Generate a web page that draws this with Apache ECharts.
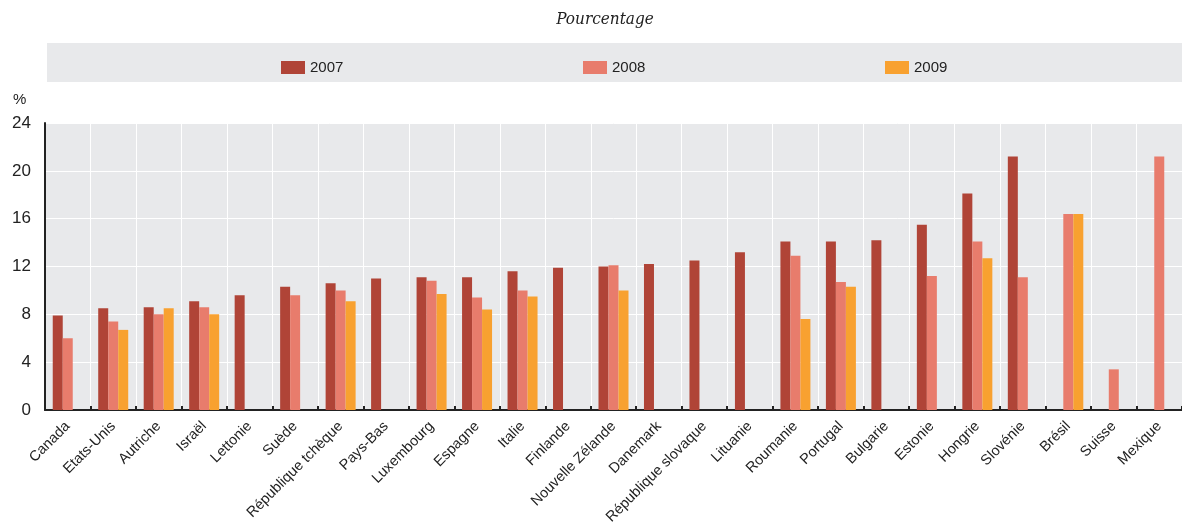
<!DOCTYPE html>
<html><head><meta charset="utf-8">
<script src="https://cdn.jsdelivr.net/npm/echarts@6/dist/echarts.min.js"></script>
<style>html,body{margin:0;padding:0;background:#fff}#c{width:1182px;height:523px}</style>
</head><body><div id="c"></div>
<script>
const categories = ["Canada","Etats-Unis","Autriche","Israël","Lettonie","Suède","République tchèque","Pays-Bas","Luxembourg","Espagne","Italie","Finlande","Nouvelle Zélande","Danemark","République slovaque","Lituanie","Roumanie","Portugal","Bulgarie","Estonie","Hongrie","Slovénie","Brésil","Suisse","Mexique"];
const v2007 = [7.9,8.5,8.6,9.1,9.6,10.3,10.6,11.0,11.1,11.1,11.6,11.9,12.0,12.2,12.5,13.2,14.1,14.1,14.2,15.5,18.1,21.2,null,null,null];
const v2008 = [6.0,7.4,8.0,8.6,null,9.6,10.0,null,10.8,9.4,10.0,null,12.1,null,null,null,12.9,10.7,null,11.2,14.1,11.1,16.4,3.4,21.2];
const v2009 = [null,6.7,8.5,8.0,null,null,9.1,null,9.7,8.4,9.5,null,10.0,null,null,null,7.6,10.3,null,null,12.7,null,16.4,null,null];
const yTicks = [0,4,8,12,16,20,24];
const seriesNames = ["2007","2008","2009"];
const colors = ["#B04437","#E87C6C","#F8A130"];

const chart = echarts.init(document.getElementById('c'), null, {renderer:'canvas'});
const font = "'Liberation Sans', Arial, sans-serif";
const narrow = "'Liberation Sans Narrow', 'Liberation Sans', Arial, sans-serif";
const legendPos = [276, 578, 880];
chart.setOption({
  animation:false,
  textStyle:{fontFamily:font},
  graphic:[
    {type:'rect', shape:{x:47,y:43,width:1135,height:39}, style:{fill:'#E8E9EB'}, z:-1},
    {type:'text', x:605, y:11, style:{text:'Pourcentage', font:"italic 17px 'DejaVu Serif Condensed', 'Liberation Serif', serif", fill:'#222', align:'center'}},
    {type:'text', x:13, y:92, style:{text:'%', font:"15px 'Liberation Sans Narrow', 'Liberation Sans', sans-serif", fill:'#222'}}
  ],
  legend: seriesNames.map((n,i)=>({
    data:[n], left:legendPos[i], top:55, itemWidth:24, itemHeight:13, itemGap:10,
    textStyle:{fontSize:15, color:'#222', fontFamily:narrow}, icon:'rect', selectedMode:false
  })),
  grid:{left:45, right:0, top:123, bottom:113, show:true, backgroundColor:'#E8E9EB', borderWidth:0, outerBoundsMode:'none', containLabel:false},
  xAxis:{
    type:'category', data:categories,
    axisLine:{lineStyle:{color:'#222', width:2}},
    axisTick:{show:true, inside:true, length:4, lineStyle:{color:'#222', width:2}},
    splitLine:{show:true, lineStyle:{color:'#ffffff', width:1}},
    axisLabel:{rotate:45, interval:0, fontSize:14.5, color:'#222', margin:14, fontFamily:font}
  },
  yAxis:{
    type:'value', min:0, max:24, interval:4,
    axisLine:{show:true, lineStyle:{color:'#222', width:2}},
    axisTick:{show:false},
    splitLine:{show:true, lineStyle:{color:'#ffffff', width:1}},
    axisLabel:{fontSize:17, color:'#222', margin:14, fontFamily:narrow,
      formatter:(v)=> yTicks.includes(v) ? String(v) : ''}
  },
  series: seriesNames.map((n,i)=>({
    name:n, type:'bar', data:[v2007,v2008,v2009][i], barWidth:10, barGap:'0%',
    itemStyle:{color:colors[i]}
  }))
});
</script></body></html>
